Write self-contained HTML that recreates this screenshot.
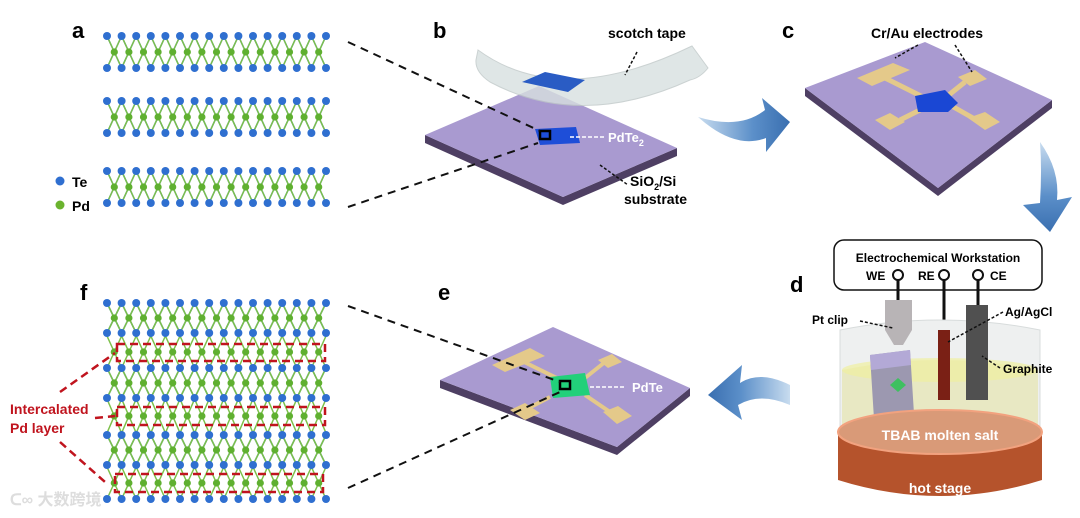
<!DOCTYPE html>
<html><head><meta charset="utf-8"><style>
body{margin:0;background:#fff;width:1080px;height:518px;overflow:hidden}
svg{display:block}
text{font-family:"Liberation Sans",Arial,sans-serif;font-weight:bold}
</style></head><body>
<svg id="s" width="1080" height="518" viewBox="0 0 1080 518" xmlns="http://www.w3.org/2000/svg">
<defs>
<linearGradient id="ar" x1="0" x2="1"><stop offset="0" stop-color="#c8dcef"/><stop offset="0.6" stop-color="#5b8fc9"/><stop offset="1" stop-color="#3a6fb0"/></linearGradient>
<linearGradient id="ar2" x1="0" y1="0" x2="0" y2="1"><stop offset="0" stop-color="#c8dcef"/><stop offset="0.6" stop-color="#5b8fc9"/><stop offset="1" stop-color="#3a6fb0"/></linearGradient>
<linearGradient id="ar3" x1="1" x2="0"><stop offset="0" stop-color="#c8dcef"/><stop offset="0.6" stop-color="#5b8fc9"/><stop offset="1" stop-color="#3a6fb0"/></linearGradient>
</defs>
<g id="lat"></g>

<text x="72" y="38" font-size="22">a</text>
<text x="433" y="38" font-size="22">b</text>
<text x="782" y="38" font-size="22">c</text>
<text x="790" y="292" font-size="22">d</text>
<text x="438" y="300" font-size="22">e</text>
<text x="80" y="300" font-size="22">f</text>
<circle cx="60" cy="181" r="4.5" fill="#2f6fd0"/><text x="72" y="187" font-size="14">Te</text>
<circle cx="60" cy="205" r="4.5" fill="#6bb32e"/><text x="72" y="211" font-size="14">Pd</text>

<!-- b -->
<polygon points="425,135 563,197 677,148 677,156 563,205 425,143" fill="#4e3f63"/>
<polygon points="425,135 539,86 677,148 563,197" fill="#a99ad0"/>
<path d="M478,50 Q560,110 692,46 L708,68 Q700,78 690,80 Q580,130 490,82 Q475,72 476,60 Z" fill="#d8e0e0" stroke="#bfc8c8" opacity="0.8"/>
<polygon points="522,82 545,72 585,80 568,92" fill="#2a5cc4"/>
<polygon points="535,129 576,127 580,143 540,145" fill="#1e4ed8"/>
<rect x="540" y="131" width="10" height="8" fill="none" stroke="#000" stroke-width="2.5"/>
<line x1="570" y1="137" x2="606" y2="137" stroke="#fff" stroke-width="1.5" stroke-dasharray="4,2"/>
<text x="608" y="142" font-size="13" fill="#fff">PdTe<tspan font-size="9" dy="4">2</tspan></text>
<line x1="348" y1="42" x2="540" y2="131" stroke="#111" stroke-width="2" stroke-dasharray="8,6"/>
<line x1="348" y1="207" x2="538" y2="143" stroke="#111" stroke-width="2" stroke-dasharray="8,6"/>
<line x1="637" y1="52" x2="625" y2="75" stroke="#111" stroke-width="1.5" stroke-dasharray="3,2"/>
<text x="608" y="38" font-size="14">scotch tape</text>
<line x1="600" y1="165" x2="628" y2="185" stroke="#111" stroke-width="1.5" stroke-dasharray="3,2"/>
<text x="630" y="186" font-size="14">SiO<tspan font-size="9" dy="4">2</tspan><tspan dy="-4">/Si</tspan></text>
<text x="624" y="204" font-size="14">substrate</text>

<!-- arrows -->
<path d="M698,117 Q740,130 765,110 L762,98 L790,122 L766,152 L766,138 Q735,150 698,117Z" fill="url(#ar)"/>
<path d="M1040,142 Q1060,170 1057,200 L1072,197 L1050,232 L1023,205 L1040,203 Q1042,170 1040,142Z" fill="url(#ar2)"/>
<path d="M790,385 Q760,370 740,383 L742,365 L708,395 L742,420 L738,405 Q760,392 790,405Z" fill="url(#ar3)"/>

<!-- c -->
<polygon points="805,88 938,188 1052,100 1052,108 938,196 805,96" fill="#4e3f63"/>
<polygon points="805,88 925,42 1052,100 938,188" fill="#a99ad0"/>
<g fill="#e4c98a">
<line x1="885" y1="78" x2="925" y2="98" stroke="#e4c98a" stroke-width="5"/>
<line x1="965" y1="82" x2="945" y2="98" stroke="#e4c98a" stroke-width="5"/>
<line x1="920" y1="110" x2="900" y2="120" stroke="#e4c98a" stroke-width="5"/>
<line x1="950" y1="105" x2="980" y2="122" stroke="#e4c98a" stroke-width="5"/>
<polygon points="857,78 893,63 910,70 872,86"/>
<polygon points="958,77 975,70 987,79 970,86"/>
<polygon points="875,120 890,113 905,122 890,130"/>
<polygon points="968,118 985,112 1000,122 985,130"/>
</g>
<polygon points="915,96 945,90 958,103 948,112 918,112" fill="#1a47d4"/>
<line x1="918" y1="45" x2="895" y2="58" stroke="#111" stroke-width="1.5" stroke-dasharray="3,2"/>
<line x1="955" y1="45" x2="972" y2="72" stroke="#111" stroke-width="1.5" stroke-dasharray="3,2"/>
<text x="871" y="38" font-size="14">Cr/Au electrodes</text>

<!-- e -->
<polygon points="440,380 617,447 690,388 690,396 617,455 440,388" fill="#4e3f63"/>
<polygon points="440,380 553,327 690,388 617,447" fill="#a99ad0"/>
<g fill="#e4c98a">
<line x1="520" y1="360" x2="565" y2="382" stroke="#e4c98a" stroke-width="4"/>
<line x1="605" y1="362" x2="585" y2="378" stroke="#e4c98a" stroke-width="4"/>
<line x1="550" y1="397" x2="525" y2="410" stroke="#e4c98a" stroke-width="4"/>
<line x1="585" y1="395" x2="610" y2="412" stroke="#e4c98a" stroke-width="4"/>
<polygon points="492,365 530,348 545,356 505,372"/>
<polygon points="598,360 612,354 622,362 608,368"/>
<polygon points="510,410 525,403 540,413 525,420"/>
<polygon points="603,412 618,406 632,416 617,424"/>
</g>
<polygon points="550,377 585,373 590,395 553,398" fill="#22d07a"/>
<rect x="560" y="381" width="10" height="8" fill="none" stroke="#000" stroke-width="2.5"/>
<line x1="590" y1="387" x2="626" y2="387" stroke="#fff" stroke-width="1.5" stroke-dasharray="4,2"/>
<text x="632" y="392" font-size="13" fill="#fff">PdTe</text>
<line x1="348" y1="306" x2="560" y2="382" stroke="#111" stroke-width="2" stroke-dasharray="8,6"/>
<line x1="348" y1="488" x2="560" y2="392" stroke="#111" stroke-width="2" stroke-dasharray="8,6"/>

<!-- d -->
<rect x="834" y="240" width="208" height="50" rx="10" fill="#fff" stroke="#111" stroke-width="1.5"/>
<text x="938" y="262" font-size="12" text-anchor="middle">Electrochemical Workstation</text>
<text x="866" y="280" font-size="12">WE</text><circle cx="898" cy="275" r="5" fill="#fff" stroke="#111" stroke-width="2"/>
<text x="918" y="280" font-size="12">RE</text><circle cx="944" cy="275" r="5" fill="#fff" stroke="#111" stroke-width="2"/>
<text x="990" y="280" font-size="12">CE</text><circle cx="978" cy="275" r="5" fill="#fff" stroke="#111" stroke-width="2"/>
<line x1="898" y1="280" x2="898" y2="300" stroke="#111" stroke-width="3"/>
<line x1="944" y1="280" x2="944" y2="330" stroke="#111" stroke-width="3"/>
<line x1="978" y1="280" x2="978" y2="305" stroke="#111" stroke-width="3"/>
<path d="M840,330 Q940,310 1040,330 L1040,450 L840,450Z" fill="#eef0f0" stroke="#d8dcdc"/>
<path d="M842,370 Q940,350 1038,370 L1038,450 L842,450Z" fill="#e6e6b8" opacity="0.8"/>
<ellipse cx="940" cy="370" rx="98" ry="12" fill="#f0f0a0" opacity="0.7"/>
<polygon points="870,355 910,350 915,430 875,435" fill="#9c98b0"/>
<polygon points="870,355 910,350 911,365 871,370" fill="#b3a9d6"/>
<polygon points="898,378 906,385 898,392 890,385" fill="#3ec060"/>
<polygon points="885,300 912,300 912,330 903,345 894,345 885,330" fill="#b8b4b6"/>
<rect x="938" y="330" width="12" height="70" fill="#7a2015"/>
<rect x="966" y="305" width="22" height="95" fill="#505050"/>
<path d="M838,432 L838,480 Q940,512 1042,480 L1042,432Z" fill="#b5532c"/>
<ellipse cx="940" cy="432" rx="102" ry="22" fill="#d99a78" stroke="#f2a27f" stroke-width="2"/>
<text x="940" y="440" font-size="14" fill="#fff" text-anchor="middle">TBAB molten salt</text>
<text x="940" y="493" font-size="14" fill="#fff" text-anchor="middle">hot stage</text>
<text x="812" y="324" font-size="12">Pt clip</text>
<line x1="860" y1="321" x2="893" y2="328" stroke="#111" stroke-width="1.5" stroke-dasharray="3,2"/>
<text x="1005" y="316" font-size="12">Ag/AgCl</text>
<line x1="1003" y1="312" x2="948" y2="342" stroke="#111" stroke-width="1.5" stroke-dasharray="3,2"/>
<text x="1003" y="373" font-size="12">Graphite</text>
<line x1="1000" y1="368" x2="982" y2="356" stroke="#111" stroke-width="1.5" stroke-dasharray="3,2"/>

<g id="f2"></g>
<text x="10" y="414" font-size="14" fill="#c0141e">Intercalated</text>
<text x="10" y="433" font-size="14" fill="#c0141e">Pd layer</text>
<text x="10" y="505" font-size="16" fill="#ddd" font-weight="normal" style="font-family:'Liberation Sans','Noto Sans CJK SC',sans-serif">ᑕ∞ 大数跨境</text>
</svg>
<script>
var g=document.getElementById('lat'),NS="http://www.w3.org/2000/svg";
function el(t,a,p){var e=document.createElementNS(NS,t);for(var k in a)e.setAttribute(k,a[k]);(p||g).appendChild(e);}
var x0=107,dx=14.6,n=16;
var B='#3d78d0',G='#7cc04a';
function L(a,b,c,d,col,w){el('line',{x1:a,y1:b,x2:c,y2:d,stroke:col,'stroke-width':w||1.5});}
function layer(yc,h){var yt=yc-h,yb=yc+h;
 for(var i=0;i<n;i++){var x=x0+i*dx;
  if(i<n-1){L(x,yt,x+dx,yb,B);L(x+dx,yt,x,yb,B);}
  if(i>0&&i<n-1){L(x,yt,x-dx/2,yc,G);L(x,yt,x+dx/2,yc,G);L(x,yb,x-dx/2,yc,G);L(x,yb,x+dx/2,yc,G);}
  if(i==0){L(x,yt,x+dx/2,yc,G);L(x,yb,x+dx/2,yc,G);}
  if(i==n-1){L(x,yt,x-dx/2,yc,G);L(x,yb,x-dx/2,yc,G);}}
 for(var i=0;i<n-1;i++){el('circle',{cx:x0+i*dx+dx/2,cy:yc,r:3.6,fill:'#5fb030'});}
 for(var i=0;i<n;i++){el('circle',{cx:x0+i*dx,cy:yt,r:4,fill:'#2f6fd0'});el('circle',{cx:x0+i*dx,cy:yb,r:4,fill:'#2f6fd0'});}}
function pd(y,h){for(var i=0;i<n;i++){var x=x0+i*dx;
 if(i<n-1){L(x,y-h,x+dx/2,y,G);L(x,y+h,x+dx/2,y,G);L(x+dx,y-h,x+dx/2,y,G);L(x+dx,y+h,x+dx/2,y,G);}}
 for(var i=0;i<n-1;i++)el('circle',{cx:x0+i*dx+dx/2,cy:y,r:3.6,fill:'#5fb030'});}
layer(52,16);layer(117,16);layer(187,16);
pd(352,16);pd(416,17);pd(483,16);
layer(318,15);layer(383,15);layer(450,15);
for(var i=0;i<n;i++){el('circle',{cx:x0+i*dx,cy:499,r:4,fill:'#2f6fd0'});}
var f2=document.getElementById('f2');
var R='#c0141e';
[[117,344,208,17],[117,407,208,18],[115,474,208,18]].forEach(function(r){el('rect',{x:r[0],y:r[1],width:r[2],height:r[3],fill:'none',stroke:R,'stroke-width':2.5,'stroke-dasharray':'8,5'},f2);});
[[60,392,115,353],[95,418,115,416],[60,442,105,482]].forEach(function(l){el('line',{x1:l[0],y1:l[1],x2:l[2],y2:l[3],stroke:R,'stroke-width':2.5,'stroke-dasharray':'8,5'},f2);});
</script>
</body></html>
